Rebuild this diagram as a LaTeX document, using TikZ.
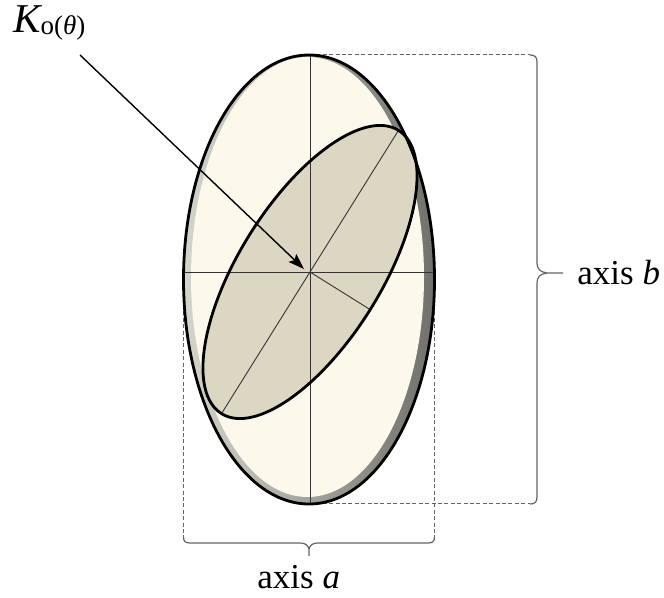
\documentclass[tikz,border=0pt]{standalone}
\usepackage{fontspec}
\setmainfont{Liberation Serif}
\usetikzlibrary{arrows.meta}
\definecolor{cream}{RGB}{252,249,236}
\definecolor{innerfill}{RGB}{220,215,194}
\definecolor{rimlight}{RGB}{214,213,204}
\definecolor{rimdark}{RGB}{112,112,108}
\definecolor{guide}{RGB}{100,100,100}
\tikzset{
  dashguide/.style={draw=guide, line width=0.5pt, dash pattern=on 2pt off 1.2pt},
  bracepath/.style={draw=guide, line width=0.6pt},
  axisline/.style={draw=black!80, line width=0.45pt},
  rimline/.style={draw=black, line width=1.4pt},
  pointer/.style={draw=black, line width=0.7pt, -{Stealth[length=8pt,width=5.5pt,inset=1.5pt]}},
  lab/.style={inner sep=0pt, font=\fontsize{17.5}{20}\selectfont}
}
\begin{document}
\begin{tikzpicture}[x=0.5pt,y=-0.5pt]
\useasboundingbox (0,0) rectangle (664,598);
% named points
\coordinate (O) at (309,279.5);
\coordinate (C) at (310,272);
\coordinate (T) at (310,55);
\coordinate (B) at (310,504);
\coordinate (L) at (184,272);
\coordinate (R) at (434,272);
\coordinate (Lo) at (183.5,279.5);
\coordinate (Ro) at (434.5,279.5);
\coordinate (Tb) at (530,55);
\coordinate (Bb) at (530,504);
\coordinate (La) at (183.5,537);
\coordinate (Ra) at (434.5,537);
\coordinate (Ks) at (80,55);
\coordinate (Kt) at (304,269);
% dashed guides (behind ellipse)
\draw[dashguide] (T) -- (Tb);
\draw[dashguide] (B) -- (Bb);
\draw[dashguide] (Lo) -- (La);
\draw[dashguide] (Ro) -- (Ra);
% outer ellipse with rim shading
\path[left color=rimlight, right color=rimdark] (O) ellipse [x radius=126, y radius=225];
\fill[cream] (307.5,277) ellipse [x radius=116.5, y radius=220];
% inner rotated ellipse
\begin{scope}[shift={(310,272)}, rotate=58]
  \fill[innerfill] (0,0) ellipse [x radius=167, y radius=71];
  \coordinate (M1) at (167,0);
  \coordinate (M2) at (-167,0);
  \coordinate (N1) at (0,71);
\end{scope}
% axes
\draw[axisline] (L) -- (R);
\draw[axisline] (T) -- (B);
\draw[axisline] (M2) -- (M1);
\draw[axisline] (C) -- (N1);
% outlines
\begin{scope}[shift={(310,272)}, rotate=58]
  \draw[rimline] (0,0) ellipse [x radius=167, y radius=71];
\end{scope}
\draw[rimline] (O) ellipse [x radius=125.5, y radius=224.5];
% pointer
\draw[pointer] (Ks) -- (Kt);
% brace b
\draw[bracepath] (Tb) .. controls (535,55) and (537,57) .. (537,62) -- (537,263)
   .. controls (537,269) and (540,272) .. (547,273) -- (563,273);
\draw[bracepath] (Bb) .. controls (535,504) and (537,502) .. (537,497) -- (537,283)
   .. controls (537,277) and (540,274) .. (547,273);
% brace a
\draw[bracepath] (La) .. controls (183.5,541) and (185,543) .. (190,543) -- (300,543)
   .. controls (305,543) and (308,545) .. (309,549) -- (309,556);
\draw[bracepath] (Ra) .. controls (434.5,541) and (433,543) .. (428,543) -- (318,543)
   .. controls (313,543) and (310,545) .. (309,549);
% labels
\node[lab, anchor=base west] (lb) at (577,285) {axis \textit{b}};
\node[lab, anchor=base west] (la) at (257,588) {axis \textit{a}};
\node[inner sep=0pt, anchor=base west] (lk) at (13,33)
  {{\fontsize{20.5}{24}\selectfont\itshape K}{\fontsize{13.5}{16}\selectfont\raisebox{-1pt}{o(\textit{θ})}}};
\end{tikzpicture}
\end{document}
